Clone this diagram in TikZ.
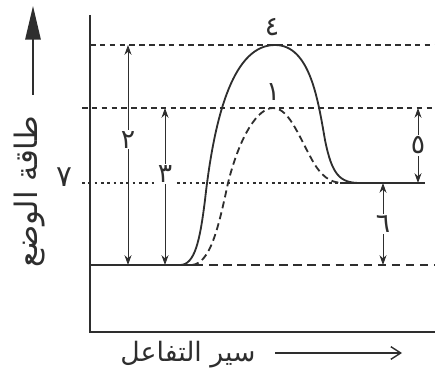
\documentclass[tikz,border=0pt]{standalone}
\usepackage{fontspec}
\usepackage{xcolor}
\usetikzlibrary{arrows.meta}
\newfontfamily\arabicfont[Script=Arabic]{DejaVu Sans}
\TeXXeTstate=1
\definecolor{Ink}{HTML}{2E2E2E}

\tikzset{
  axisline/.style={line width=2pt, Ink},
  guide/.style={dashed, line width=0.9pt, Ink, dash pattern=on 4pt off 3pt},
  dotguide/.style={line width=0.9pt, Ink, dash pattern=on 2pt off 2.5pt},
  energy/.style={line width=1.3pt, Ink},
  span/.style={<->, line width=0.7pt, Ink},
  digit/.style={text=Ink, fill=white, inner sep=1pt, font=\arabicfont\fontsize{19}{21}\selectfont}
}

\begin{document}
\begin{tikzpicture}[x=0.025cm, y=-0.025cm, >={Stealth[length=7pt,width=5pt]}]
    \useasboundingbox (0,0) rectangle (435,374);

    % Axes
    \coordinate (O) at (90,332);
    \coordinate (ytop) at (90,15);
    \coordinate (xend) at (435,332);
    \draw[axisline] (ytop) -- (O) -- (xend);

    % Axis titles
    \coordinate (yarrS) at (33,95);
    \coordinate (yarrE) at (33,6);
    \draw[-{Triangle[length=24pt,width=11pt]}, line width=1.2pt, Ink] (yarrS) -- (yarrE);
    \node[rotate=90, font=\arabicfont\fontsize{22}{24}\selectfont, Ink] (ylab) at (30,192) {\beginR طاقة الوضع\endR};

    \node[font=\arabicfont\fontsize{19}{21}\selectfont, Ink] (xlab) at (188,355) {\beginR سير التفاعل\endR};
    \coordinate (xarrS) at (275,353);
    \coordinate (xarrE) at (402,353);
    \draw[-{Straight Barb[length=7pt,width=9pt]}, line width=1pt, Ink] (xarrS) -- (xarrE);

    % Energy levels
    \draw[guide] (90,45) -- (435,45);
    \draw[guide] (82,108) -- (435,108);
    \draw[dotguide] (82,183) -- (340,183);
    \draw[energy] (O |- 0,265) -- (195,265);
    \draw[guide, dash pattern=on 6pt off 4pt] (195,265) -- (435,265);
    \draw[energy] (340,183) -- (425,183);

    % Reaction curves
    \draw[energy] (180,265) .. controls (195,265) and (200,240) .. (205,200)
        .. controls (215,110) and (235,45) .. (275,45)
        .. controls (310,45) and (318,100) .. (325,140)
        .. controls (332,175) and (340,183) .. (360,183);
    \draw[energy, dashed, dash pattern=on 5pt off 3pt] (192,265) .. controls (210,263) and (218,230) .. (228,183)
        .. controls (240,135) and (258,108) .. (273,108)
        .. controls (290,108) and (300,140) .. (315,165)
        .. controls (325,180) and (333,183) .. (345,183);

    % Labels on curves
    \node[digit, fill=none] (n4) at (272,27) {٤};
    \node[digit, fill=none] (n1) at (273,92) {١};
    \node[digit, fill=none, font=\arabicfont\fontsize{21}{23}\selectfont] (n7) at (64,177) {٧};

    % Double arrows
    \coordinate (a2t) at (128,45);
    \coordinate (a2b) at (128,265);
    \draw[span] (a2t) -- (a2b) node[digit, pos=0.43] {٢};
    \coordinate (a3t) at (165,108);
    \coordinate (a3b) at (165,265);
    \draw[span] (a3t) -- (a3b) node[digit, pos=0.42] {٣};
    \coordinate (a5t) at (418,108);
    \coordinate (a5b) at (418,183);
    \draw[span] (a5t) -- (a5b) node[digit, pos=0.5] {٥};
    \coordinate (a6t) at (383,183);
    \coordinate (a6b) at (383,265);
    \draw[span] (a6t) -- (a6b) node[digit, pos=0.5] {٦};
\end{tikzpicture}
\end{document}
